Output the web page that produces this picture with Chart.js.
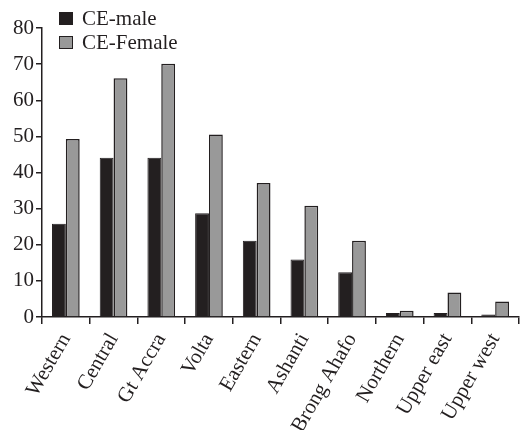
<!DOCTYPE html>
<html>
<head>
<meta charset="utf-8">
<script src="https://cdn.jsdelivr.net/npm/chart.js@4/dist/chart.umd.min.js"></script>
<style>
  html, body { margin: 0; padding: 0; background: #fff; overflow: hidden; }
  #wrap { position: relative; width: 522px; height: 430px; }
  #legend { position: absolute; left: 59px; top: 6px; font-family: "Liberation Serif", serif; font-size: 21px; color: #231f20; }
  #legend div { height: 24px; line-height: 24px; display: flex; align-items: center; }
  #legend span.box { display: inline-block; width: 14px; height: 13px; margin-right: 9px; box-sizing: border-box; border: 1px solid #231f20; }
</style>
</head>
<body>
<div id="wrap">
  <canvas id="chart" width="522" height="430"></canvas>
  <div id="legend">
    <div><span class="box" style="background:#231f20"></span>CE-male</div>
    <div><span class="box" style="background:#999999"></span>CE-Female</div>
  </div>
</div>
<script>
// data
const regions = ['Western', 'Central', 'Gt Accra', 'Volta', 'Eastern', 'Ashanti', 'Brong Ahafo', 'Northern', 'Upper east', 'Upper west'];
const ceMale = [25.8, 44.1, 44.1, 28.7, 21.1, 15.9, 12.4, 1.1, 1.1, 0.7];
const ceFemale = [49.3, 66.1, 70.1, 50.5, 37.1, 30.8, 21.1, 1.7, 6.8, 4.3];
const yTicks = [0, 10, 20, 30, 40, 50, 60, 70, 80];

const ink = '#231f20';
const font = { family: 'Liberation Serif', size: 21 };

const ctx = document.getElementById('chart').getContext('2d');
new Chart(ctx, {
    type: 'bar',
    data: {
        labels: regions,
        datasets: [{
            label: 'CE-male',
            data: ceMale,
            backgroundColor: ink,
            borderColor: ink,
            borderWidth: 1
        }, {
            label: 'CE-Female',
            data: ceFemale,
            backgroundColor: '#999999',
            borderColor: ink,
            borderWidth: 1.5
        }]
    },
    options: {
        responsive: false,
        animation: false,
        layout: { padding: { top: 28, right: 0, left: 0, bottom: 0 } },
        plugins: { legend: { display: false }, tooltip: { enabled: false } },
        datasets: { bar: { categoryPercentage: 0.58, barPercentage: 1 } },
        scales: {
            x: {
                grid: { offset: true, drawOnChartArea: false, tickLength: 7, color: ink, lineWidth: 1.5 },
                border: { color: ink, width: 1.5 },
                ticks: { color: ink, font: font, minRotation: 60, maxRotation: 60, autoSkip: false, padding: 5 },
                afterFit: s => { s.height = 113; }
            },
            y: {
                min: 0,
                max: 80,
                afterBuildTicks: s => { s.ticks = yTicks.map(v => ({ value: v })); },
                grid: { drawOnChartArea: false, tickLength: 6, color: ink, lineWidth: 1.5 },
                border: { color: ink, width: 1.5 },
                ticks: { color: ink, font: font, padding: 2 },
                afterFit: s => { s.width = 42; }
            }
        }
    }
});
</script>
</body>
</html>
